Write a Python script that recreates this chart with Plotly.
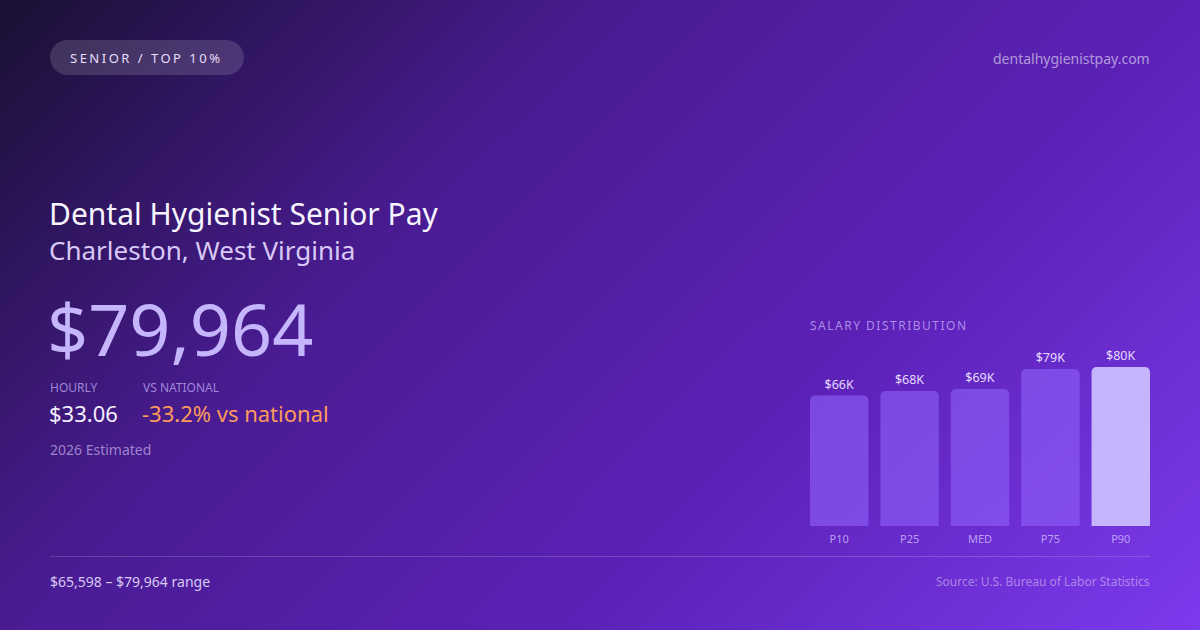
import base64

import plotly.graph_objects as go

W, H = 1200, 630

# salary distribution
percentiles = ['P10', 'P25', 'MED', 'P75', 'P90']
salaries = [65598, 67900, 68900, 79000, 79964]
salary_labels = ['$66K', '$68K', '$69K', '$79K', '$80K']

title = 'Dental Hygienist Senior Pay'
location = 'Charleston, West Virginia'
headline = '$79,964'
hourly = '$33.06'
vs_national = '-33.2% vs national'
badge = 'SENIOR / TOP 10%'
site = 'dentalhygienistpay.com'
estimate_note = '2026 Estimated'
range_note = '$65,598 – $79,964 range'
source_note = 'Source: U.S. Bureau of Labor Statistics'

FONT = 'Noto Sans'


def px(x):
    return x / W


def py(y):
    return 1 - y / H


def spaced(text, spacing):
    return f'<span style="letter-spacing:{spacing}px">{text}</span>'


def rounded_rect(x0, y0, x1, y1, r):
    k = 0.5523 * r
    pts = [
        ('M', [(x0 + r, y0)]),
        ('L', [(x1 - r, y0)]),
        ('C', [(x1 - r + k, y0), (x1, y0 + r - k), (x1, y0 + r)]),
        ('L', [(x1, y1 - r)]),
        ('C', [(x1, y1 - r + k), (x1 - r + k, y1), (x1 - r, y1)]),
        ('L', [(x0 + r, y1)]),
        ('C', [(x0 + r - k, y1), (x0, y1 - r + k), (x0, y1 - r)]),
        ('L', [(x0, y0 + r)]),
        ('C', [(x0, y0 + r - k), (x0 + r - k, y0), (x0 + r, y0)]),
    ]
    out = ''
    for cmd, coords in pts:
        out += cmd + ' '.join(f'{px(x):.5f},{py(y):.5f}' for x, y in coords) + ' '
    return out + 'Z'


# diagonal background gradient (css-like 135deg)
bg_svg = f'''<svg xmlns="http://www.w3.org/2000/svg" width="{W}" height="{H}" viewBox="0 0 {W} {H}">
<defs><linearGradient id="g" gradientUnits="userSpaceOnUse" x1="142.5" y1="-142.5" x2="1057.5" y2="772.5">
<stop offset="0" stop-color="#1a1033"/>
<stop offset="0.35" stop-color="#4a1c94"/>
<stop offset="0.65" stop-color="#5b21b6"/>
<stop offset="1" stop-color="#7c3aed"/>
</linearGradient></defs>
<rect width="{W}" height="{H}" fill="url(#g)"/>
</svg>'''
bg_uri = 'data:image/svg+xml;base64,' + base64.b64encode(bg_svg.encode()).decode()

bar_colors = ['rgba(139,92,246,0.66)'] * 4 + ['#c4b5fd']

fig = go.Figure(
    go.Bar(
        x=percentiles,
        y=salaries,
        text=salary_labels,
        textposition='outside',
        textfont=dict(family=FONT, size=12.5, color='#e4dbff'),
        cliponaxis=False,
        marker=dict(color=bar_colors, cornerradius=5, line=dict(width=0)),
        hoverinfo='skip',
        showlegend=False,
    )
)

annotations = [
    dict(x=px(68), y=py(58), text=spaced(badge, 2.5), xanchor='left', yanchor='middle',
         font=dict(family=FONT, size=13, color='#e6defa')),
    dict(x=px(1152), y=py(58), text=site, xanchor='right', yanchor='middle',
         font=dict(family=FONT, size=14, color='rgba(255,255,255,0.55)')),
    dict(x=px(47), y=py(213), text=title, xanchor='left', yanchor='middle',
         font=dict(family=FONT, size=30, color='#f7f4ff')),
    dict(x=px(47), y=py(250), text=location, xanchor='left', yanchor='middle',
         font=dict(family=FONT, size=26, color='#d9c9f7')),
    dict(x=px(45), y=py(328), text=headline, xanchor='left', yanchor='middle',
         font=dict(family=FONT, size=72, color='#c4b5fd')),
    dict(x=px(48), y=py(387), text='HOURLY', xanchor='left', yanchor='middle',
         font=dict(family=FONT, size=12, color='rgba(205,185,255,0.7)')),
    dict(x=px(141), y=py(387), text='VS NATIONAL', xanchor='left', yanchor='middle',
         font=dict(family=FONT, size=12, color='rgba(205,185,255,0.7)')),
    dict(x=px(47), y=py(413), text=hourly, xanchor='left', yanchor='middle',
         font=dict(family=FONT, size=22, color='#f3eeff')),
    dict(x=px(140), y=py(413), text=vs_national, xanchor='left', yanchor='middle',
         font=dict(family=FONT, size=22, color='#fb9a5c')),
    dict(x=px(48), y=py(449), text=estimate_note, xanchor='left', yanchor='middle',
         font=dict(family=FONT, size=14, color='rgba(220,205,255,0.6)')),
    dict(x=px(808), y=py(325), text=spaced('SALARY DISTRIBUTION', 1.5), xanchor='left', yanchor='middle',
         font=dict(family=FONT, size=12, color='rgba(210,190,255,0.7)')),
    dict(x=px(48), y=py(581), text=range_note, xanchor='left', yanchor='middle',
         font=dict(family=FONT, size=14, color='#d6caf5')),
    dict(x=px(1152), y=py(581), text=source_note, xanchor='right', yanchor='middle',
         font=dict(family=FONT, size=12, color='rgba(255,255,255,0.42)')),
]
for a in annotations:
    a.update(xref='paper', yref='paper', showarrow=False)

shapes = [
    dict(type='path', path=rounded_rect(50, 40, 244, 75, 17.5), xref='paper', yref='paper',
         fillcolor='rgba(255,255,255,0.14)', line=dict(width=0), layer='below'),
    dict(type='line', x0=px(50), x1=px(1150), y0=py(556.5), y1=py(556.5), xref='paper', yref='paper',
         line=dict(color='rgba(255,255,255,0.16)', width=1)),
]

fig.update_layout(
    width=W,
    height=H,
    margin=dict(l=0, r=0, t=0, b=0),
    paper_bgcolor='#4c1d95',
    plot_bgcolor='rgba(0,0,0,0)',
    bargap=0.17,
    images=[dict(source=bg_uri, xref='paper', yref='paper', x=0, y=1, sizex=1, sizey=1,
                 xanchor='left', yanchor='top', sizing='stretch', layer='below')],
    xaxis=dict(
        domain=[px(810), px(1150)],
        range=[-0.415, 4.415],
        showgrid=False, zeroline=False, showline=False, ticks='',
        ticklabelstandoff=5,
        tickfont=dict(family=FONT, size=11, color='rgba(215,200,255,0.75)'),
        fixedrange=True,
    ),
    yaxis=dict(
        domain=[py(526), py(367)],
        range=[0, 79964],
        visible=False,
        fixedrange=True,
    ),
    annotations=annotations,
    shapes=shapes,
    font=dict(family=FONT),
)

# drop the default page margin so the card fills the window
fig.write_html(
    'out.html',
    config={'displayModeBar': False},
    post_script="document.body.style.margin='0';",
)
